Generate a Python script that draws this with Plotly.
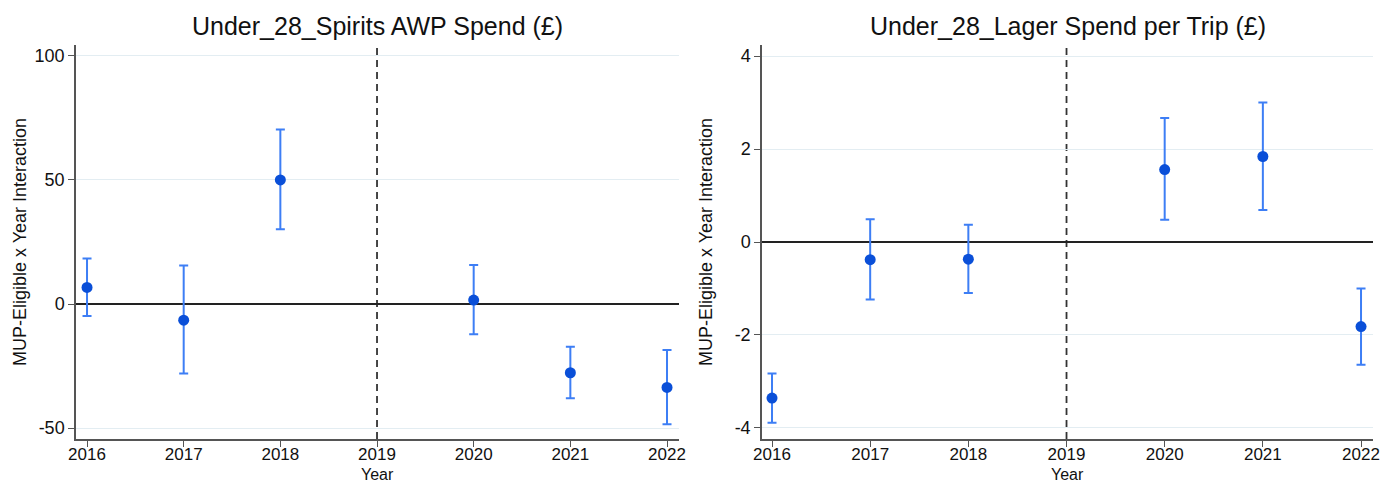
import plotly.graph_objects as go

# Event-study coefficients: MUP-eligible x year interaction, with 95% CIs
years = [2016, 2017, 2018, 2020, 2021, 2022]

spirits_coef = [6.7, -6.5, 50.0, 1.6, -27.7, -33.6]
spirits_hi = [18.4, 15.5, 70.3, 15.7, -17.2, -18.5]
spirits_lo = [-4.8, -28.0, 30.1, -12.2, -38.0, -48.5]

lager_coef = [-3.36, -0.38, -0.37, 1.56, 1.84, -1.82]
lager_hi = [-2.83, 0.49, 0.37, 2.67, 3.00, -1.00]
lager_lo = [-3.89, -1.24, -1.10, 0.48, 0.69, -2.64]

titles = ["Under_28_Spirits AWP Spend (£)", "Under_28_Lager Spend per Trip (£)"]
x_ticks = [2016, 2017, 2018, 2019, 2020, 2021, 2022]
spirits_yticks = [-50, 0, 50, 100]
lager_yticks = [-4, -2, 0, 2, 4]
policy_year = 2019

W, H = 1381, 483
FONT = "Liberation Sans, Arial, Helvetica, sans-serif"
POINT = "#0a4fd8"
BAR = "#3d7ef5"
GRID = "#e3edf2"
AXIS = "#555555"

panels = [
    dict(coef=spirits_coef, hi=spirits_hi, lo=spirits_lo, yticks=spirits_yticks,
         yrange=[-54.4, 104.4], xdom=[76 / W, 679 / W], xrange=[2015.886, 2022.124]),
    dict(coef=lager_coef, hi=lager_hi, lo=lager_lo, yticks=lager_yticks,
         yrange=[-4.24, 4.24], xdom=[762 / W, 1373 / W], xrange=[2015.898, 2022.122]),
]
ydom = [1 - 439 / H, 1 - 45 / H]

fig = go.Figure()
annotations = []
shapes = []

for i, p in enumerate(panels):
    sfx = "" if i == 0 else "2"
    xa, ya = "x" + sfx, "y" + sfx
    plus = [h - c for h, c in zip(p["hi"], p["coef"])]
    minus = [c - l for c, l in zip(p["coef"], p["lo"])]
    fig.add_trace(go.Scatter(
        x=years, y=p["coef"], mode="markers", xaxis=xa, yaxis=ya,
        marker=dict(color=POINT, size=11),
        error_y=dict(type="data", symmetric=False, array=plus, arrayminus=minus,
                     color=BAR, thickness=2, width=4.5),
        showlegend=False, hoverinfo="x+y",
    ))

    axis_common = dict(
        showline=True, linecolor=AXIS, linewidth=1.5, ticks="outside",
        ticklen=6, tickwidth=1.2, tickcolor=AXIS, automargin=False,
        tickfont=dict(family=FONT, size=18, color="#111111"),
        ticklabeloverflow="allow",
    )
    fig.layout["xaxis" + sfx] = dict(
        axis_common, domain=p["xdom"], range=p["xrange"], anchor=ya,
        tickvals=x_ticks, ticktext=[str(t) for t in x_ticks], showgrid=False,
        zeroline=False, ticklabelstandoff=-7,
        tickfont=dict(family=FONT, size=17, color="#111111"),
    )
    fig.layout["yaxis" + sfx] = dict(
        axis_common, domain=ydom, range=p["yrange"], anchor=xa,
        tickvals=p["yticks"], ticktext=[str(t) for t in p["yticks"]],
        showgrid=True, gridcolor=GRID, gridwidth=1.2,
        zeroline=True, zerolinecolor="#222222", zerolinewidth=2.2,
    )

    # policy-year marker
    shapes.append(dict(type="line", xref=xa, yref=ya + " domain", x0=policy_year, x1=policy_year,
                       y0=0, y1=1, line=dict(color="#333333", width=1.8, dash="7px,5px"),
                       layer="below"))

    cx = (p["xdom"][0] + p["xdom"][1]) / 2
    annotations.append(dict(text=titles[i], x=cx, y=1 - 26 / H, xref="paper", yref="paper",
                            showarrow=False, xanchor="center", yanchor="middle",
                            font=dict(family=FONT, size=25, color="#111111")))
    annotations.append(dict(text="Year", x=cx, y=1 - 474 / H, xref="paper", yref="paper",
                            showarrow=False, xanchor="center", yanchor="middle",
                            font=dict(family=FONT, size=16, color="#111111")))
    annotations.append(dict(text="MUP-Eligible x Year Interaction",
                            x=(20 if i == 0 else 706) / W, y=1 - 242 / H,
                            xref="paper", yref="paper", textangle=-90,
                            showarrow=False, xanchor="center", yanchor="middle",
                            font=dict(family=FONT, size=18, color="#111111")))

fig.update_layout(
    width=W, height=H, margin=dict(l=0, r=0, t=0, b=0),
    paper_bgcolor="white", plot_bgcolor="white",
    shapes=shapes, annotations=annotations,
)

fig.write_html("out.html")
